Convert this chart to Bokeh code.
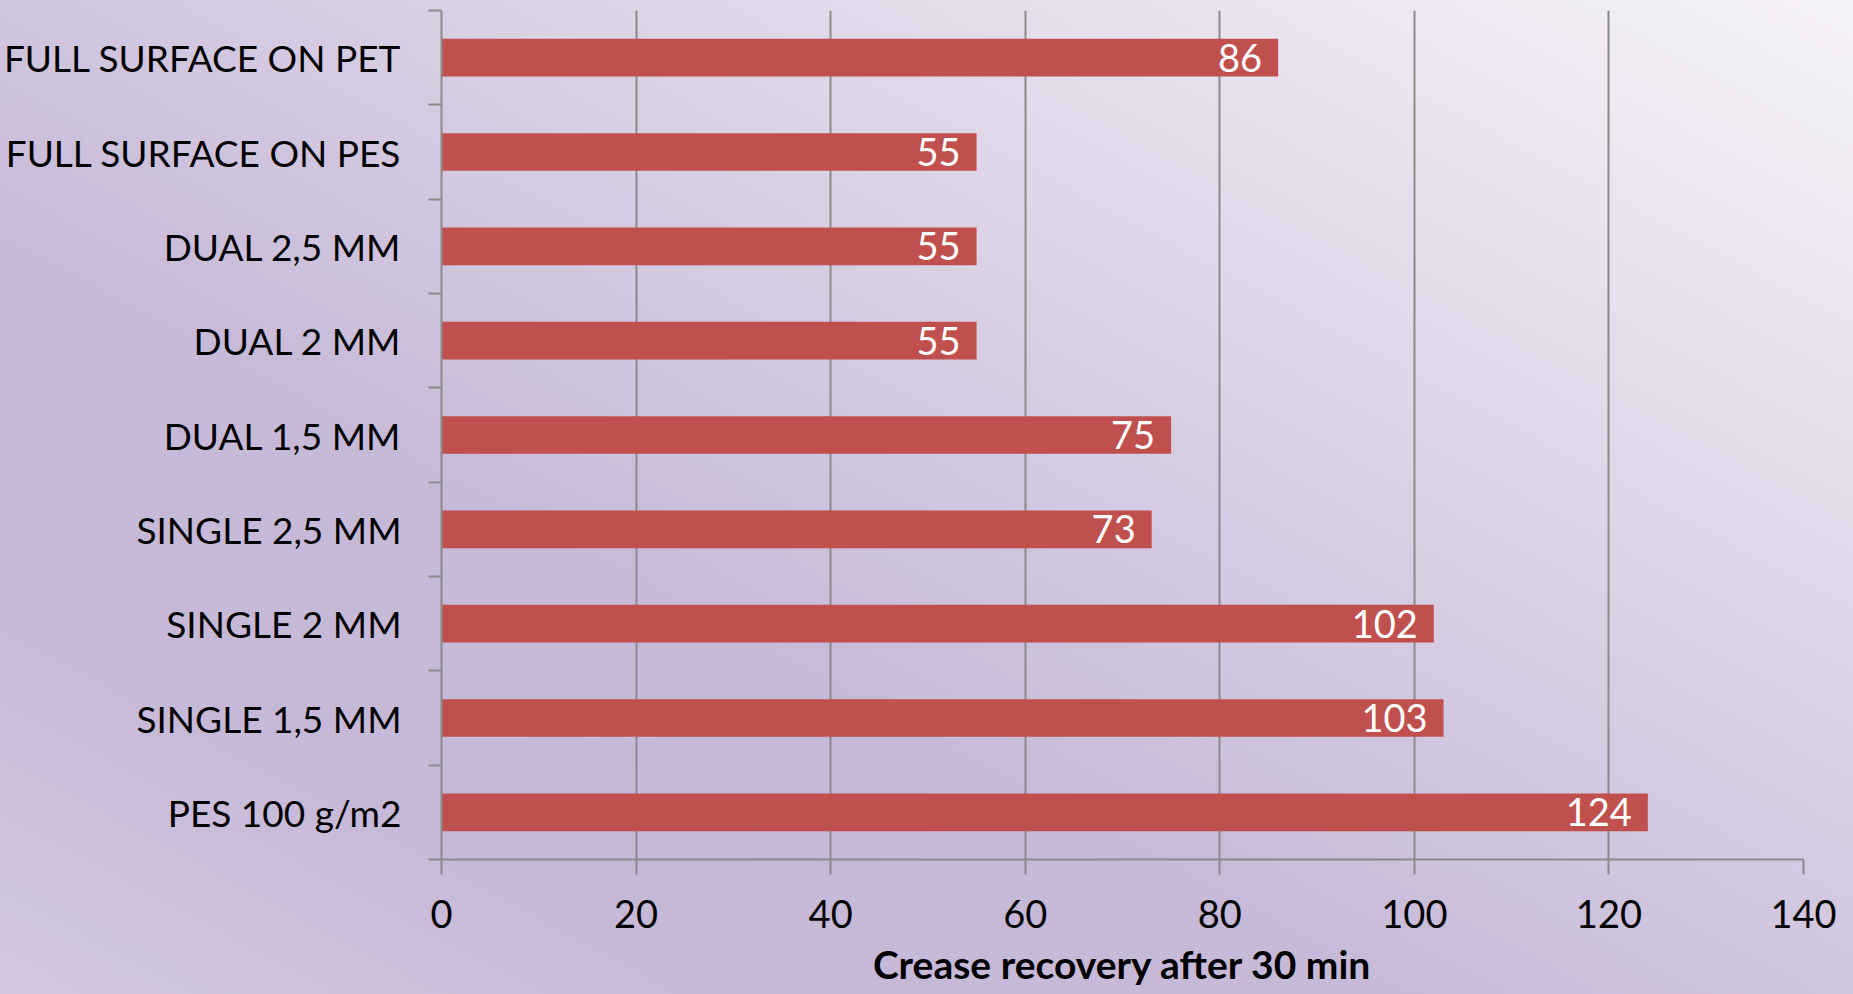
from bokeh.plotting import figure
from bokeh.models import ColumnDataSource, FixedTicker, LabelSet
from bokeh.core.properties import value
from bokeh.embed import file_html
from bokeh.resources import INLINE

# Samples, listed bottom to top
categories = [
    "PES 100 g/m2",
    "SINGLE 1,5 MM",
    "SINGLE 2 MM",
    "SINGLE 2,5 MM",
    "DUAL 1,5 MM",
    "DUAL 2 MM",
    "DUAL 2,5 MM",
    "FULL SURFACE ON PES",
    "FULL SURFACE ON PET",
]
recovery = [124, 103, 102, 73, 75, 55, 55, 55, 86]
x_ticks = [0, 20, 40, 60, 80, 100, 120, 140]
x_title = "Crease recovery after 30 min"

FONT = "Lato"
GRID = "#8a8a8a"
BAR = "#c0504d"

positions = list(range(len(categories)))
source = ColumnDataSource(dict(
    y=positions,
    value=recovery,
    label=[str(v) for v in recovery],
))

p = figure(
    width=1853, height=994,
    x_range=(0, 140), y_range=(-0.5, len(categories) - 0.5),
    output_backend="svg", toolbar_location=None,
    min_border_left=440, min_border_right=50,
    min_border_top=10, min_border_bottom=135,
)
p.styles = {
    "background": "linear-gradient(to bottom left, #f6f3f8 0%, #dcd3e6 35%, "
                  "#c7bad8 62%, #c6b8d7 80%, #d4c9e0 100%)",
}
p.background_fill_alpha = 0
p.border_fill_alpha = 0
p.outline_line_color = None

p.hbar(y="y", right="value", left=0, height=0.4, source=source,
       fill_color=BAR, line_color=None)

labels = LabelSet(x="value", y="y", text="label", source=source,
                  x_offset=-16, y_offset=0, text_align="right",
                  text_baseline="middle", text_color="white",
                  text_font=value(FONT), text_font_size=value("38px"))
p.add_layout(labels)

# horizontal value axis
xa = p.xaxis[0]
xa.ticker = FixedTicker(ticks=x_ticks)
xa.axis_line_color = GRID
xa.axis_line_width = 2
xa.major_tick_line_color = GRID
xa.major_tick_line_width = 2
xa.major_tick_out = 15
xa.major_tick_in = 0
xa.minor_tick_line_color = None
xa.major_label_text_font = FONT
xa.major_label_text_font_size = "38px"
xa.major_label_text_color = "black"
xa.major_label_standoff = 25
xa.axis_label = x_title
xa.axis_label_text_font = FONT
xa.axis_label_text_font_style = "bold"
xa.axis_label_text_font_size = "39px"
xa.axis_label_text_color = "black"
xa.axis_label_standoff = 10

# category axis: labels at bar centres, tick marks between categories
ya = p.yaxis[0]
ya.ticker = FixedTicker(ticks=positions,
                        minor_ticks=[i - 0.5 for i in range(len(categories) + 1)])
ya.major_label_overrides = {i: c for i, c in enumerate(categories)}
ya.axis_line_color = GRID
ya.axis_line_width = 2
ya.major_tick_line_color = None
ya.major_tick_out = 0
ya.major_tick_in = 0
ya.minor_tick_line_color = GRID
ya.minor_tick_line_width = 2
ya.minor_tick_out = 13
ya.minor_tick_in = 0
ya.major_label_text_font = FONT
ya.major_label_text_font_size = "37px"
ya.major_label_text_color = "black"
ya.major_label_standoff = 27

p.xgrid.ticker = FixedTicker(ticks=x_ticks[1:])
p.xgrid.grid_line_color = GRID
p.xgrid.grid_line_width = 2
p.ygrid.grid_line_color = None

open("out.html", "w").write(file_html(p, INLINE))
